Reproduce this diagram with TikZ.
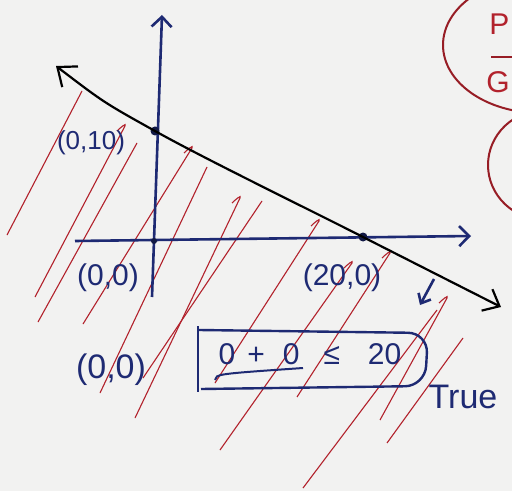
\documentclass[tikz,border=0pt]{standalone}
\usepackage{fontspec}
\setmainfont{Liberation Sans}
\usetikzlibrary{arrows.meta}
\definecolor{penblue}{RGB}{30,42,115}
\definecolor{penred}{RGB}{178,34,44}
\definecolor{paper}{RGB}{242,242,241}
\tikzset{
  axis/.style={draw=penblue, line width=1.3pt, -{Straight Barb[length=5pt,width=10pt]}},
  bound/.style={draw=black, line width=1.1pt,
    {Straight Barb[length=8pt,width=13pt]}-{Straight Barb[length=7pt,width=12pt]}},
  hatch/.style={draw=penred, line width=0.55pt},
  ring/.style={draw=penred!85!black, line width=1pt},
  pt/.style={circle, fill=penblue!60!black, inner sep=0pt, minimum size=4.5pt},
  lbl/.style={text=penblue, inner sep=1pt, font=\fontsize{15}{15}\selectfont},
  redlbl/.style={text=penred, inner sep=0pt, font=\fontsize{15}{15}\selectfont},
  boxline/.style={draw=penblue, line width=1.2pt}
}

\begin{document}
\begin{tikzpicture}[x=0.5pt, y=-0.5pt]
  \fill[paper] (0,0) rectangle (512,491);
  \useasboundingbox (0,0) rectangle (512,491);
  \clip (0,0) rectangle (512,491);

  % shading of the half plane
  \foreach \xa/\ya/\xb/\yb in {7/235/82/91, 38/322/137/143, 100/393/207/167, 143/378/262/201,
      303/488/437/310, 387/443/463/338}
    \draw[hatch] (\xa,\ya) -- (\xb,\yb);
  \foreach \xa/\ya/\xb/\yb in {35/297/125/126, 83/324/192/148, 135/418/240/198, 215/383/319/221,
      220/450/352/263, 297/397/390/253, 380/420/447/298}
    \draw[hatch] (\xa,\ya) -- (\xb,\yb) .. controls +(2,-4) and +(3,-3) .. +(-8,5);

  % axes
  \coordinate (ybot) at (152,297);
  \coordinate (ytop) at (162,15);
  \coordinate (xlft) at (75,241);
  \coordinate (xrgt) at (471,236);
  \draw[axis] (ybot) -- (ytop);
  \draw[axis] (xlft) -- (xrgt);

  % boundary line
  \node[pt] (p10) at (155,131) {};
  \node[pt] (p20) at (363,237) {};
  \node[pt, minimum size=3pt] (orig) at (154,241) {};
  \coordinate (blft) at (56,66);
  \coordinate (brgt) at (501,307);
  \draw[bound] plot[smooth, tension=0.6] coordinates {(blft) (p10.center) (p20.center) (brgt)};

  \node[lbl, font=\fontsize{13}{13}\selectfont] (l010) at (91,143) {(0,10)};
  \node[lbl] (l00) at (108,278) {(0,0)};
  \node[lbl] (l200) at (342,278) {(20,0)};
  \node[lbl, font=\fontsize{17}{17}\selectfont] (l00b) at (111,370) {(0,0)};

  % test point
  \node[lbl] (ineq) at (310,354) {0\hspace{6pt}+\hspace{9pt}0\hspace{12pt}≤\hspace{14pt}20};
  \coordinate (bxnw) at (199,330);
  \coordinate (bxne) at (428,333);
  \coordinate (bxse) at (425,386);
  \coordinate (bxsw) at (201,389);
  \draw[boxline] (198,326) -- (198,392);
  \draw[boxline, rounded corners=10pt] (bxnw) -- (bxne) -- (bxse) -- (bxsw);
  \draw[boxline, line width=1pt] (215,380) .. controls (216,374) .. (303,368);
  \node[lbl, font=\fontsize{17}{17}\selectfont] (true) at (463,397) {True};

  \coordinate (ar1) at (434,279);
  \coordinate (ar2) at (420,305);
  \draw[draw=penblue, line width=1.3pt, -{Straight Barb[length=4pt,width=7pt]}] (ar1) -- (ar2);

  % notes at the edge
  \draw[ring] (540,45) ellipse [x radius=48.5pt, y radius=34pt];
  \draw[ring] (545,165) ellipse [x radius=28.5pt, y radius=27.5pt];
  \node[redlbl, anchor=west] (pp) at (489,24) {P};
  \node[redlbl, anchor=west] (gg) at (486,82) {G};
  \draw[ring] (491,57) -- (515,57);
\end{tikzpicture}
\end{document}
